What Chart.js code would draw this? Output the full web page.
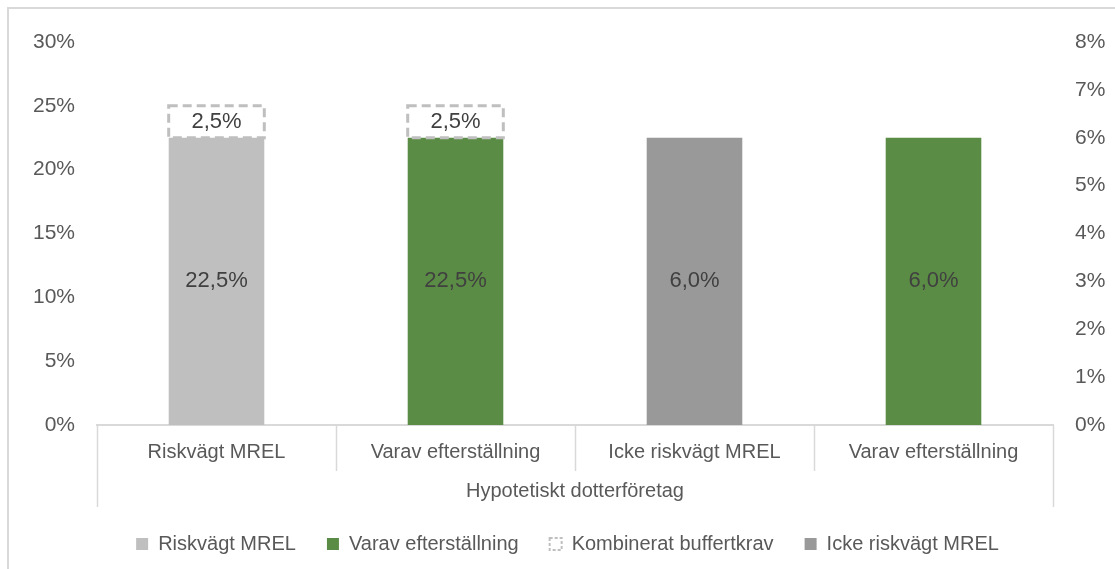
<!DOCTYPE html>
<html>
<head>
<meta charset="utf-8">
<script src="https://cdn.jsdelivr.net/npm/chart.js@4.4.1/dist/chart.umd.min.js"></script>
<style>
  html, body { margin: 0; padding: 0; background: #fff; overflow: hidden; }
  #wrap { position: relative; width: 1115px; height: 569px; overflow: hidden; }
  #frame { position: absolute; left: 7px; top: 7px; width: 1200px; height: 700px; border: 2px solid #d9d9d9; pointer-events: none; }
  canvas { position: absolute; left: 0; top: 0; }
</style>
</head>
<body>
<div id="wrap">
  <canvas id="myChart" width="1115" height="569"></canvas>
  <div id="frame"></div>
</div>
<script>
// Chart data
const categories = ["Riskvägt MREL", "Varav efterställning", "Icke riskvägt MREL", "Varav efterställning"]
const groupLabel = "Hypotetiskt dotterföretag"
const riskMrel = [22.5, null, null, null]
const subordination = [null, 22.5, null, null]
const bufferReq = [2.5, 2.5, null, null]
const nonRiskMrel = [null, null, 6.0, null]
const nonRiskSubordination = [null, null, null, 6.0]
const leftTicks = [0, 5, 10, 15, 20, 25, 30]
const rightTicks = [0, 1, 2, 3, 4, 5, 6, 7, 8]

const fontFamily = '"Liberation Sans", Arial, sans-serif'
const textColor = '#595959'
const lineColor = '#d9d9d9'

Chart.defaults.font.family = fontFamily
Chart.defaults.color = textColor

function pct(v) {
    return v.toFixed(1).replace('.', ',') + '%'
}

// value labels + dashed outline for the buffer requirement
const valueLabels = {
    id: 'valueLabels',
    afterDatasetsDraw(chart) {
        const ctx = chart.ctx
        ctx.save()
        chart.data.datasets.forEach((ds, i) => {
            const meta = chart.getDatasetMeta(i)
            meta.data.forEach((bar, j) => {
                const v = ds.data[j]
                if (v === null || v === undefined) return
                const { x, y, base, width } = bar.getProps(['x', 'y', 'base', 'width'], true)
                if (ds.dashed) {
                    ctx.setLineDash([9, 5])
                    ctx.lineWidth = 3
                    ctx.strokeStyle = '#bfbfbf'
                    ctx.strokeRect(x - width / 2, Math.min(y, base), width, Math.abs(base - y))
                    ctx.setLineDash([])
                }
                ctx.font = '22px ' + fontFamily
                ctx.fillStyle = '#404040'
                ctx.textAlign = 'center'
                ctx.textBaseline = 'middle'
                ctx.fillText(pct(v), x, (y + base) / 2)
            })
        })
        ctx.restore()
    }
}

// category separators and the outer group bracket below the x axis
const groupLines = {
    id: 'groupLines',
    afterDraw(chart) {
        const ctx = chart.ctx
        const xs = chart.scales.x
        const bottom = chart.chartArea.bottom
        ctx.save()
        ctx.strokeStyle = lineColor
        ctx.lineWidth = 1.5
        for (let i = 0; i <= categories.length; i++) {
            const px = Math.round(xs.getPixelForValue(i - 0.5)) + 0.5
            const outer = i === 0 || i === categories.length
            ctx.beginPath()
            ctx.moveTo(px, bottom)
            ctx.lineTo(px, bottom + (outer ? 82 : 46))
            ctx.stroke()
        }
        ctx.restore()
    }
}

const ctx = document.getElementById('myChart')

new Chart(ctx, {
    type: 'bar',
    data: {
        labels: categories,
        datasets: [
            { label: 'Riskvägt MREL', data: riskMrel, backgroundColor: '#bfbfbf', yAxisID: 'y' },
            { label: 'Varav efterställning', data: subordination, backgroundColor: '#5b8c45', yAxisID: 'y' },
            { label: 'Kombinerat buffertkrav', data: bufferReq, backgroundColor: 'rgba(0,0,0,0)', yAxisID: 'y', dashed: true },
            { label: 'Icke riskvägt MREL', data: nonRiskMrel, backgroundColor: '#999999', yAxisID: 'y1' },
            { label: 'Varav efterställning (icke riskvägt)', data: nonRiskSubordination, backgroundColor: '#5b8c45', yAxisID: 'y1' }
        ]
    },
    options: {
        responsive: false,
        animation: false,
        barPercentage: 0.4,
        categoryPercentage: 1.0,
        layout: {
            padding: { top: 42, left: 20, right: 0, bottom: 5 }
        },
        scales: {
            x: {
                stacked: true,
                grid: { display: false, drawTicks: false },
                border: { display: true, color: lineColor, width: 2 },
                ticks: {
                    padding: 15,
                    maxRotation: 0,
                    autoSkip: false,
                    color: textColor,
                    font: { size: 20 }
                },
                title: {
                    display: true,
                    text: groupLabel,
                    color: textColor,
                    font: { size: 20 },
                    padding: { top: 0, bottom: 0 }
                }
            },
            y: {
                stacked: true,
                position: 'left',
                min: leftTicks[0],
                max: leftTicks[leftTicks.length - 1],
                grid: { display: false, drawTicks: false },
                border: { display: false },
                ticks: {
                    stepSize: leftTicks[1] - leftTicks[0],
                    padding: 22,
                    color: textColor,
                    font: { size: 21 },
                    callback: v => v + '%'
                },
                afterFit(scale) { scale.width = 77 }
            },
            y1: {
                stacked: true,
                position: 'right',
                min: rightTicks[0],
                max: rightTicks[rightTicks.length - 1],
                grid: { display: false, drawTicks: false },
                border: { display: false },
                ticks: {
                    stepSize: rightTicks[1] - rightTicks[0],
                    padding: 22,
                    color: textColor,
                    font: { size: 21 },
                    callback: v => v + '%'
                },
                afterFit(scale) { scale.width = 62 }
            }
        },
        plugins: {
            tooltip: { enabled: false },
            legend: {
                position: 'bottom',
                labels: {
                    boxWidth: 12,
                    boxHeight: 12,
                    padding: 31,
                    color: textColor,
                    font: { size: 20 },
                    filter: item => item.datasetIndex !== 4,
                    generateLabels(chart) {
                        const items = Chart.defaults.plugins.legend.labels.generateLabels(chart)
                        items.forEach(item => {
                            if (item.datasetIndex === 2) {
                                item.fillStyle = 'rgba(0,0,0,0)'
                                item.strokeStyle = '#bfbfbf'
                                item.lineWidth = 2
                                item.lineDash = [3, 2]
                            } else {
                                item.lineWidth = 0
                            }
                        })
                        return items
                    }
                }
            }
        }
    },
    plugins: [valueLabels, groupLines]
})
</script>
</body>
</html>
